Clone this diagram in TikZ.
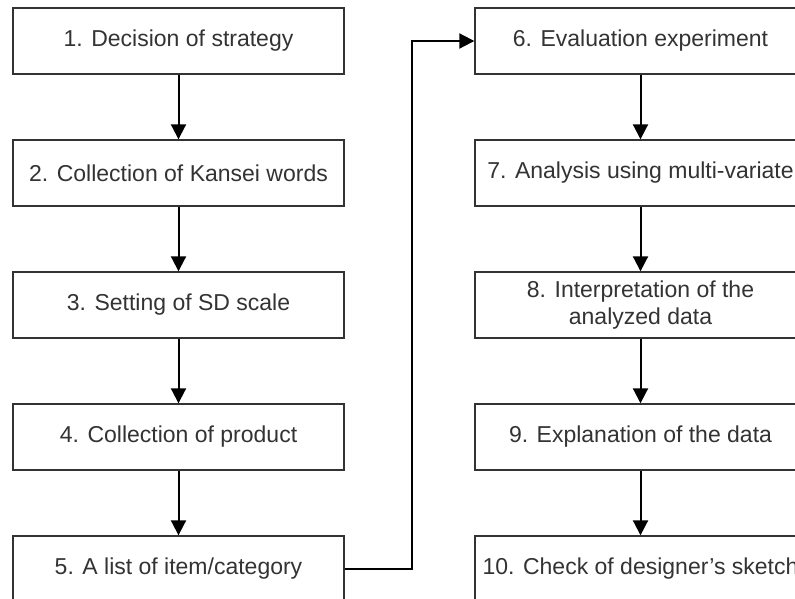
\documentclass[tikz,border=0pt]{standalone}
\usepackage{fontspec}
\setmainfont{Liberation Sans}
\usepackage{tikz}
\usetikzlibrary{arrows.meta}

\begin{document}
\begin{tikzpicture}[x=1pt, y=1pt,
		stepbox/.style = {draw = black!80, line width = 1.4pt, fill = white, minimum width = 331pt, minimum height = 66pt, inner sep = 0pt, align = center, text = black!80, font = \fontsize{23}{27.6}\selectfont},
		flow/.style = {line width = 2pt, -{Triangle[width = 15pt, length = 15pt]}}]
		\useasboundingbox (0,0) rectangle (795,-598);
		\clip (0,0) rectangle (795,-598);
		% left column
		\node[stepbox] (s1) at (178.5,-41) {1. Decision of strategy};
		\node[stepbox] (s2) at (178.5,-173) {2. Collection of Kansei words};
		\node[stepbox] (s3) at (178.5,-305) {3. Setting of SD scale};
		\node[stepbox] (s4) at (178.5,-437) {4. Collection of product};
		\node[stepbox] (s5) at (178.5,-569) {5. A list of item/category};
		% right column
		\node[stepbox] (s6) at (640.5,-41) {6. Evaluation experiment};
		\node[stepbox] (s7) at (640.5,-173) {7. Analysis using multi-variate};
		\node[stepbox] (s8) at (640.5,-305) {8. Interpretation of the\\analyzed data};
		\node[stepbox] (s9) at (640.5,-437) {9. Explanation of the data};
		\node[stepbox] (s10) at (640.5,-569) {10. Check of designer's sketch};
		\draw[flow] (s1) -- (s2);
		\draw[flow] (s2) -- (s3);
		\draw[flow] (s3) -- (s4);
		\draw[flow] (s4) -- (s5);
		\coordinate (bend) at (412,-569);
		\draw[flow] (s5.east) -- (bend) |- (s6.west);
		\draw[flow] (s6) -- (s7);
		\draw[flow] (s7) -- (s8);
		\draw[flow] (s8) -- (s9);
		\draw[flow] (s9) -- (s10);
	\end{tikzpicture}
\end{document}
